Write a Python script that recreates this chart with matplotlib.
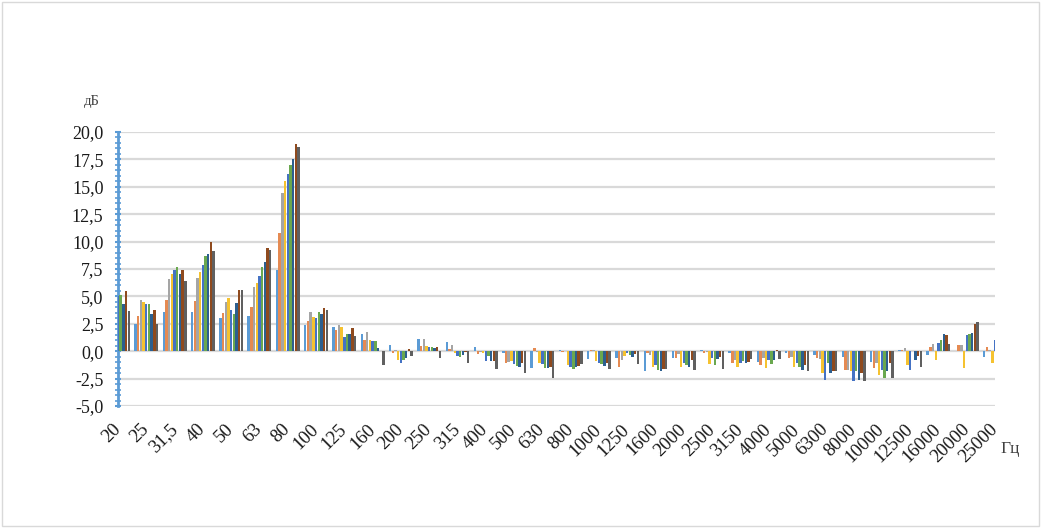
import numpy as np
import matplotlib
matplotlib.use('Agg')
import matplotlib.pyplot as plt
from matplotlib.patches import Rectangle
from matplotlib.ticker import MultipleLocator, FuncFormatter

plt.rcParams['font.family'] = ['Liberation Serif', 'DejaVu Serif']

freqs = ['20', '25', '31,5', '40', '50', '63', '80', '100', '125', '160',
         '200', '250', '315', '400', '500', '630', '800', '1000', '1250',
         '1600', '2000', '2500', '3150', '4000', '5000', '6300', '8000',
         '10000', '12500', '16000', '20000', '25000']

# one row per frequency band, 9 measurements each (dB)
band_values = [
    [4.0, 3.6, 4.6, 4.9, 5.0, 5.1, 4.35, 5.5, 3.65],
    [2.5, 3.2, 4.65, 4.45, 4.3, 4.3, 3.4, 3.8, 2.5],
    [3.55, 4.65, 6.6, 7.0, 7.4, 7.65, 7.0, 7.4, 6.4],
    [3.55, 4.55, 6.65, 7.2, 7.85, 8.65, 8.85, 9.95, 9.1],
    [3.0, 3.45, 4.45, 4.85, 3.75, 3.4, 4.4, 5.55, 5.55],
    [3.2, 4.0, 5.85, 6.2, 6.85, 7.65, 8.1, 9.4, 9.2],
    [7.4, 10.75, 14.4, 15.5, 16.2, 16.95, 17.5, 18.9, 18.6],
    [2.35, 2.75, 3.55, 3.1, 3.0, 3.55, 3.4, 3.9, 3.75],
    [2.2, 1.9, 2.35, 2.2, 1.3, 1.55, 1.55, 2.1, 1.35],
    [1.55, 1.0, 1.75, 1.0, 0.9, 0.9, 0.25, 0.05, -1.3],
    [0.55, -0.15, 0.1, -0.8, -1.05, -0.8, -0.65, 0.2, -0.45],
    [1.1, 0.45, 1.1, 0.45, 0.35, 0.35, 0.25, 0.35, -0.6],
    [0.8, 0.2, 0.55, -0.15, -0.45, -0.5, -0.35, -0.05, -1.05],
    [0.35, -0.3, -0.1, -0.2, -0.9, -0.45, -0.9, -0.9, -1.65],
    [-0.2, -1.1, -0.95, -0.9, -1.2, -1.35, -1.4, -1.1, -1.95],
    [-1.55, 0.25, -0.1, -1.05, -1.2, -1.55, -1.5, -1.45, -2.4],
    [0.1, -0.05, 0.05, -1.3, -1.45, -1.65, -1.45, -1.35, -1.15],
    [-0.75, 0.15, 0.1, -0.9, -1.1, -1.2, -1.35, -1.1, -1.6],
    [-0.65, -1.45, -0.8, -0.45, -0.2, -0.35, -0.5, -0.25, -1.2],
    [-1.85, -0.2, -0.35, -1.4, -1.25, -1.7, -1.85, -1.65, -1.65],
    [-0.65, -0.6, -0.25, -1.45, -1.05, -1.25, -1.4, -0.8, -1.75],
    [0.1, -0.2, -0.05, -1.2, -0.6, -1.25, -0.75, -0.5, -1.65],
    [-0.2, -1.05, -0.8, -1.4, -1.1, -0.9, -1.1, -0.95, -0.75],
    [-0.95, -1.25, -0.6, -1.55, -0.8, -1.2, -0.8, 0.1, -0.75],
    [-0.2, -0.65, -0.5, -1.45, -1.1, -1.4, -1.7, -1.25, -1.85],
    [-0.35, -0.6, -0.75, -1.95, -2.6, -1.1, -1.95, -1.85, -1.85],
    [-0.5, -1.7, -1.7, -1.85, -2.75, -1.85, -2.6, -2.0, -2.75],
    [-0.95, -1.55, -1.1, -2.15, -1.75, -2.45, -1.85, -1.1, -2.4],
    [0.1, 0.1, 0.3, -1.25, -1.75, 0.0, -0.8, -0.45, -1.4],
    [-0.35, 0.4, 0.7, -0.8, 0.75, 1.0, 1.6, 1.45, 0.7],
    [0.0, 0.55, 0.6, -1.5, 1.45, 1.6, 1.7, 2.45, 2.7],
    [-0.5, 0.35, 0.1, -1.1, 1.05, 0.8, 0.6, 0.5, 0.3],
]

colors = ['#5B9BD5', '#E58A52', '#A5A5A5', '#F5C230', '#4472C4',
          '#6AA84F', '#2C5F8F', '#8F4A1E', '#606060']

vals = np.array(band_values)
n_cat, n_ser = vals.shape
x = np.arange(n_cat)
w = 0.095

fig = plt.figure(figsize=(10.42, 5.28), dpi=100)
ax = fig.add_axes([118 / 1042, 1 - 406 / 528, 877 / 1042, 274 / 528])

for j in range(n_ser):
    ax.bar(x + (j - (n_ser - 1) / 2) * w, vals[:, j], width=w * 0.9,
           color=colors[j], zorder=3)

ax.set_xlim(0, n_cat - 1)
ax.set_ylim(-5, 20)
ax.yaxis.set_major_locator(MultipleLocator(2.5))
ax.yaxis.set_minor_locator(MultipleLocator(0.5))
ax.yaxis.set_major_formatter(FuncFormatter(lambda v, p: f'{v:.1f}'.replace('.', ',')))
ax.grid(axis='y', color='#D9D9D9', lw=1.6, zorder=0)

for s in ['top', 'right', 'bottom']:
    ax.spines[s].set_visible(False)
ax.spines['left'].set_color('#5B9BD5')
ax.spines['left'].set_linewidth(2)
ax.tick_params(axis='y', which='major', direction='inout', length=5,
               color='#5B9BD5', width=1.5, labelsize=13, labelcolor='#1a1a1a', pad=8)
ax.tick_params(axis='y', which='minor', direction='inout', length=5,
               color='#5B9BD5', width=1.2)

ax.set_xticks(x)
ax.set_xticklabels(freqs, rotation=45, ha='right', va='center',
                   rotation_mode='anchor', fontsize=13.5, color='#1a1a1a')
ax.tick_params(axis='x', length=0, pad=15)

fig.text(92 / 1042, 1 - 102 / 528, 'дБ', fontsize=10.5, color='#404040',
         ha='center', va='center')
fig.text(1010 / 1042, 1 - 449 / 528, 'Гц', fontsize=12.5, color='#404040',
         ha='center', va='center')

fig.patches.append(Rectangle((2 / 1042, 2 / 528), 1037 / 1042, 524 / 528,
                             transform=fig.transFigure, fill=False,
                             ec='#D9D9D9', lw=1))

fig.savefig('out.png', dpi=100)
